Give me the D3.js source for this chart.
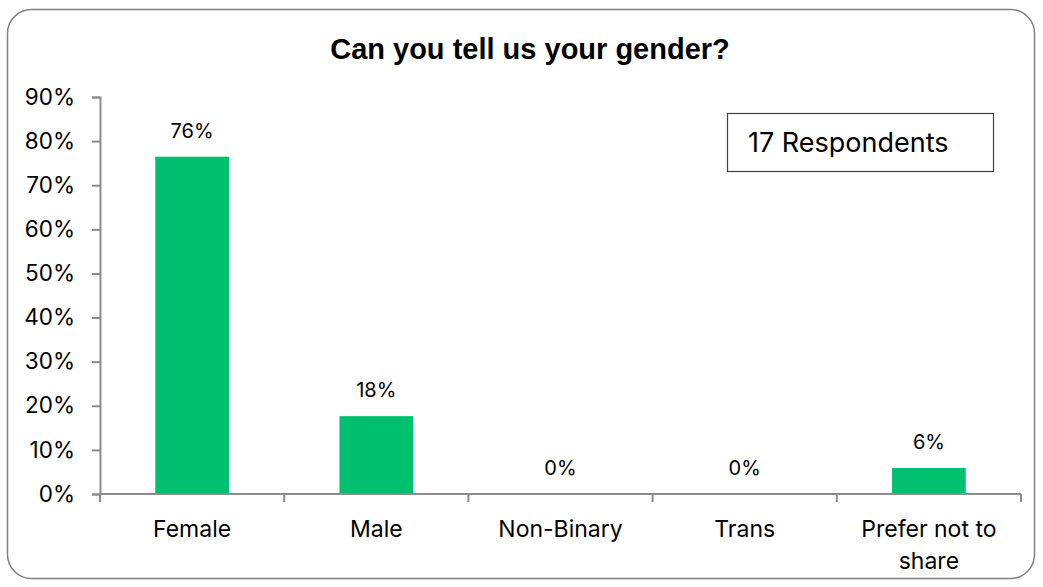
<!DOCTYPE html>
<html>
<head>
<meta charset="utf-8">
<script src="https://cdn.jsdelivr.net/npm/d3@7/dist/d3.min.js"></script>
<style>
  html, body { margin: 0; padding: 0; background: #fff; }
  svg { display: block; }
</style>
</head>
<body>
<svg id="chart" width="1043" height="587"></svg>
<script>
// Survey question: gender of respondents (share of 17 responses)
const categories = ["Female", "Male", "Non-Binary", "Trans", "Prefer not to share"];
const shares = [13 / 17, 3 / 17, 0, 0, 1 / 17];
const yTicks = [0, 0.1, 0.2, 0.3, 0.4, 0.5, 0.6, 0.7, 0.8, 0.9];
const titleText = "Can you tell us your gender?";
const noteText = "17 Respondents";

const svg = d3.select("#chart");
const font = "Inter, 'Liberation Sans', Arial, sans-serif";
const barColor = "#00BF6F";
const axisColor = "#8c8c8c";

// chart frame
svg.append("rect")
  .attr("x", 7.5).attr("y", 9.5)
  .attr("width", 1027).attr("height", 569)
  .attr("rx", 24).attr("ry", 24)
  .attr("fill", "#fff")
  .attr("stroke", "#808080")
  .attr("stroke-width", 1.5);

const plot = { left: 100, right: 1021, top: 97, bottom: 494 };

const x = d3.scaleBand()
  .domain(categories)
  .range([plot.left, plot.right])
  .paddingInner(0)
  .paddingOuter(0);

const y = d3.scaleLinear()
  .domain([0, 0.9])
  .range([plot.bottom, plot.top]);

// title
svg.append("text")
  .attr("x", 530).attr("y", 59)
  .attr("text-anchor", "middle")
  .attr("font-family", "'Liberation Sans', Arial, sans-serif")
  .attr("font-weight", "bold")
  .attr("font-size", 29)
  .attr("fill", "#000")
  .text(titleText);

// y axis
const yAxis = svg.append("g")
  .attr("transform", `translate(${plot.left},0)`)
  .call(d3.axisLeft(y).tickValues(yTicks).tickFormat(d3.format(".0%")).tickSizeOuter(0).tickSize(8).tickPadding(17));
yAxis.select(".domain").attr("stroke", axisColor).attr("stroke-width", 2);
yAxis.selectAll(".tick line").attr("stroke", axisColor).attr("stroke-width", 2);
yAxis.selectAll(".tick text")
  .attr("font-family", font)
  .attr("font-size", 22.5)
  .attr("fill", "#000");

// bars
const barW = x.bandwidth() * 0.4;
svg.append("g").selectAll("rect")
  .data(categories)
  .join("rect")
  .attr("x", (d) => x(d) + (x.bandwidth() - barW) / 2)
  .attr("y", (d, i) => y(shares[i]))
  .attr("width", barW)
  .attr("height", (d, i) => y(0) - y(shares[i]))
  .attr("fill", barColor);

// x axis with ticks at category boundaries
const xAxisG = svg.append("g");
xAxisG.append("line")
  .attr("x1", plot.left).attr("x2", plot.right)
  .attr("y1", y(0)).attr("y2", y(0))
  .attr("stroke", axisColor).attr("stroke-width", 2);
const boundaries = categories.map((d) => x(d)).concat([x.range()[1]]);
xAxisG.selectAll("line.tick")
  .data(boundaries)
  .join("line")
  .attr("class", "tick")
  .attr("x1", (d) => d).attr("x2", (d) => d)
  .attr("y1", y(0)).attr("y2", y(0) + 8)
  .attr("stroke", axisColor).attr("stroke-width", 2);

// category labels (wrapped to two lines when long)
const catLines = (d) => d === "Prefer not to share" ? ["Prefer not to", "share"] : [d];
xAxisG.selectAll("text.cat")
  .data(categories)
  .join("text")
  .attr("class", "cat")
  .attr("text-anchor", "middle")
  .attr("font-family", font)
  .attr("font-size", 23)
  .attr("fill", "#000")
  .each(function (d) {
    const t = d3.select(this);
    catLines(d).forEach((line, k) => {
      t.append("tspan")
        .attr("x", x(d) + x.bandwidth() / 2)
        .attr("y", 537 + k * 32)
        .text(line);
    });
  });

// value labels
svg.append("g").selectAll("text")
  .data(categories)
  .join("text")
  .attr("x", (d) => x(d) + x.bandwidth() / 2)
  .attr("y", (d, i) => y(shares[i]) - 19)
  .attr("text-anchor", "middle")
  .attr("font-family", font)
  .attr("font-size", 20)
  .attr("fill", "#000")
  .text((d, i) => d3.format(".0%")(shares[i]));

// respondent count note
svg.append("rect")
  .attr("x", 727.5).attr("y", 113.5)
  .attr("width", 266).attr("height", 58)
  .attr("fill", "#fff")
  .attr("stroke", "#404040")
  .attr("stroke-width", 1.2);
svg.append("text")
  .attr("x", 748).attr("y", 152)
  .attr("font-family", font)
  .attr("font-size", 27)
  .attr("fill", "#000")
  .text(noteText);
</script>
</body>
</html>
